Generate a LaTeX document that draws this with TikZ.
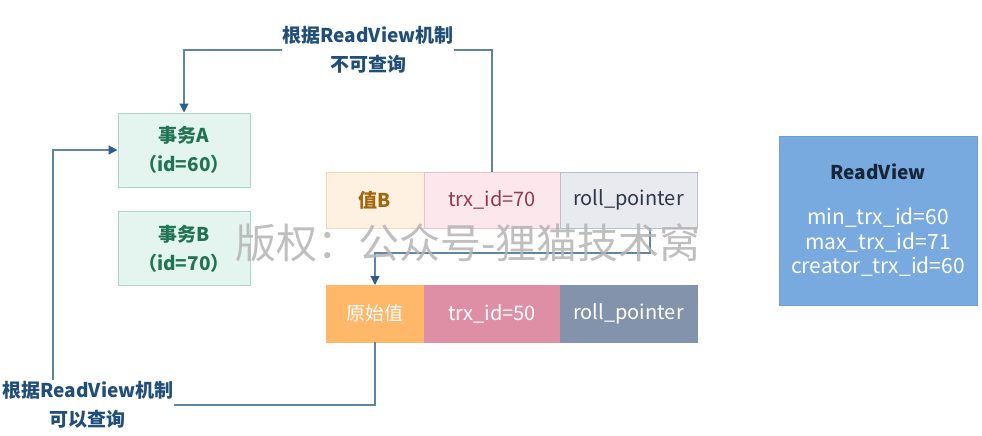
\documentclass[tikz,border=0pt]{standalone}
\usepackage{fontspec}
\setmainfont{Noto Sans CJK SC}
\usepackage{xcolor}
\usepackage{tikz}
\usetikzlibrary{arrows.meta,positioning}

\definecolor{txfill}{HTML}{E4F4EE}
\definecolor{txline}{HTML}{A9D9C5}
\definecolor{txtext}{HTML}{217453}
\definecolor{valline}{HTML}{FAD7B0}
\definecolor{valfill}{HTML}{FFF1E2}
\definecolor{valtext}{HTML}{A0680E}
\definecolor{trxline}{HTML}{F1BDCB}
\definecolor{trxfill}{HTML}{FCE7ED}
\definecolor{trxtext}{HTML}{8E3A58}
\definecolor{ptrline}{HTML}{B9BDCC}
\definecolor{ptrfill}{HTML}{E8EAF0}
\definecolor{ptrtext}{HTML}{2D3648}
\definecolor{origfill}{HTML}{FFB769}
\definecolor{trxofill}{HTML}{DE8EA5}
\definecolor{ptrofill}{HTML}{8393AB}
\definecolor{connc}{HTML}{5E86A3}
\definecolor{arrowc}{HTML}{2B5F8E}
\definecolor{lbltext}{HTML}{1F4E79}
\definecolor{rvfill}{HTML}{78A9DF}
\definecolor{rvline}{HTML}{6E9FD6}
\definecolor{rvtitle}{HTML}{172636}
\definecolor{markc}{HTML}{B4B4B4}

\begin{document}
\begin{tikzpicture}[
  x=1pt, y=-1pt,
  >=Stealth,
  txbox/.style={draw=txline, fill=txfill, line width=1pt, minimum width=132pt, minimum height=74pt,
    align=center, text=txtext, font=\fontsize{19}{29}\selectfont\bfseries},
  cell/.style={draw, line width=1pt, minimum height=56pt, outer sep=0pt, inner sep=0pt,
    font=\fontsize{20}{22}\selectfont},
  conn/.style={draw=connc, line width=1.2pt, -{Triangle[length=9pt, width=9pt, color=arrowc]}},
  lbl/.style={fill=white, inner sep=1pt, align=center, text=lbltext, font=\fontsize{19}{29}\selectfont\bfseries},
]
\useasboundingbox (0,0) rectangle (982,436);

% Transactions
\node[txbox] (txA) at (184,150) {事务A\\（id=60）};
\node[txbox] (txB) at (184,248.5) {事务B\\（id=70）};

% Version chain
\node[cell, draw=valline, fill=valfill, text=valtext, font=\fontsize{19}{22}\selectfont\bfseries,
  minimum width=98pt] (valB) at (375,200) {值B};
\node[cell, draw=trxline, fill=trxfill, text=trxtext, minimum width=136pt,
  right=0pt of valB] (trxB) {trx\_id=70};
\node[cell, draw=ptrline, fill=ptrfill, text=ptrtext, minimum width=137pt,
  right=0pt of trxB] (ptrB) {roll\_pointer};

\node[cell, draw=origfill, fill=origfill, text=white, font=\fontsize{19}{22}\selectfont, minimum width=98pt,
  minimum height=57pt] (orig) at (375,313.5) {原始值};
\node[cell, draw=trxofill, fill=trxofill, text=white, minimum width=136pt,
  minimum height=57pt, right=0pt of orig] (trxO) {trx\_id=50};
\node[cell, draw=ptrofill, fill=ptrofill, text=white, minimum width=137pt,
  minimum height=57pt, right=0pt of trxO] (ptrO) {roll\_pointer};

% ReadView
\node[draw=rvline, fill=rvfill, line width=1pt, minimum width=198pt, minimum height=169pt] (rv) at (878,220.5) {};
\node[text=rvtitle, font=\fontsize{19}{22}\selectfont\bfseries] (rvTitle) at (878,172) {ReadView};
\node[text=white, align=center, font=\fontsize{21}{24.5}\selectfont] (rvIds) at (878,242.5)
  {min\_trx\_id=60\\max\_trx\_id=71\\creator\_trx\_id=60};

% Connectors
\coordinate (topY) at (0,50);
\coordinate (ptrDown) at ([xshift=21.5pt]ptrB.south);
\coordinate (botY) at (0,405);
\coordinate (leftX) at (53,0);

\draw[conn] (trxB.north) -- (trxB.north |- topY) -| (txA.north);
\draw[conn] (ptrDown) -- ++(0,25) -| (orig.north);
\draw[conn] (orig.south) -- (orig.south |- botY) -- (leftX |- botY) |- (txA.west);

% Labels
\node[lbl] (lblNo) at (368,50) {根据ReadView机制\\不可查询};
\node[lbl] (lblYes) at (88,405) {根据ReadView机制\\可以查询};

% Watermark
\node[text=markc, opacity=0.85, font=\fontsize{41}{41}\selectfont] (mark) at (468,243) {版权：公众号-狸猫技术窝};
\end{tikzpicture}
\end{document}
